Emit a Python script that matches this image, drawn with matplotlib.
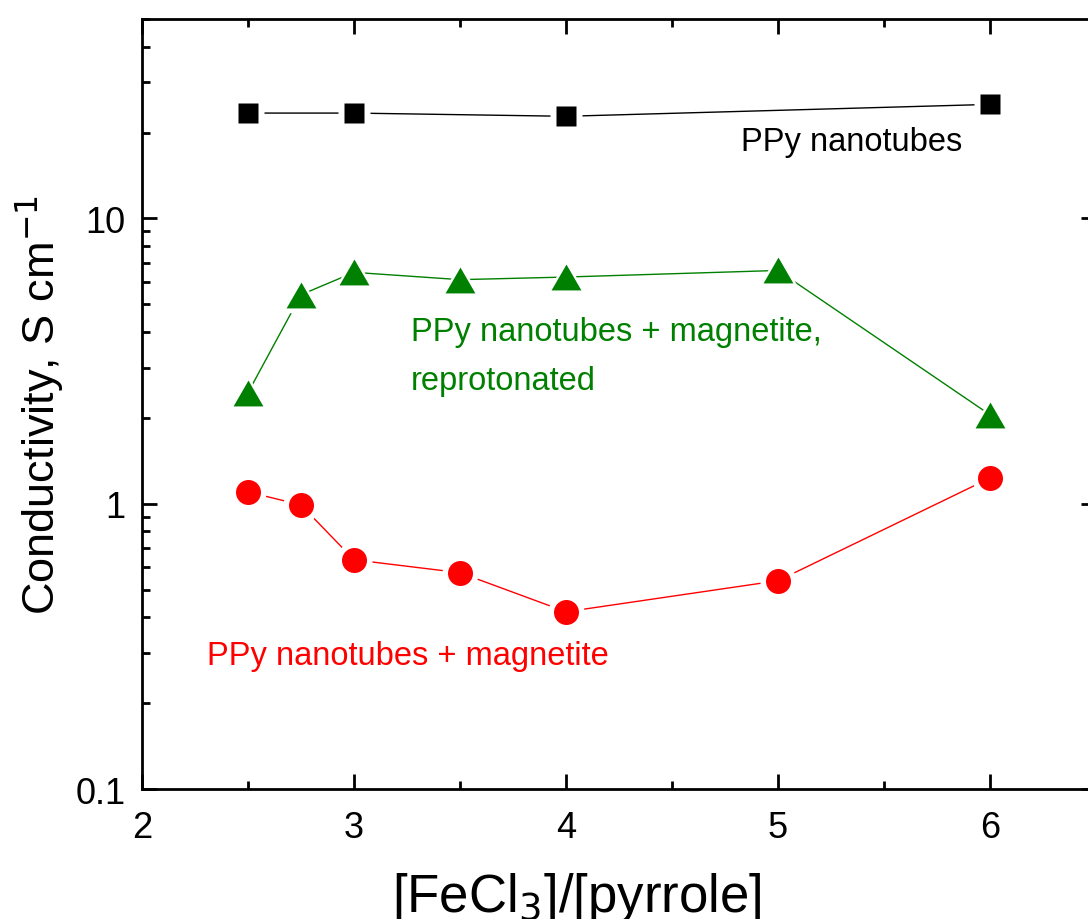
import matplotlib
matplotlib.use("Agg")
import matplotlib.pyplot as plt
from matplotlib.ticker import MultipleLocator, LogLocator, NullFormatter

plt.rcParams['font.family'] = ['Liberation Sans', 'DejaVu Sans']

# [FeCl3]/[pyrrole] ratios and measured conductivities (S/cm)
ratio_ppy = [2.5, 3.0, 4.0, 6.0]
cond_ppy = [23.4, 23.4, 22.8, 25.1]

ratio_repro = [2.5, 2.75, 3.0, 3.5, 4.0, 5.0, 6.0]
cond_repro = [2.45, 5.4, 6.47, 6.1, 6.23, 6.57, 2.05]

ratio_mag = [2.5, 2.75, 3.0, 3.5, 4.0, 5.0, 6.0]
cond_mag = [1.10, 0.99, 0.636, 0.573, 0.418, 0.537, 1.23]

x_ticks = [2, 3, 4, 5, 6]
y_ticks = [0.1, 1, 10]
y_tick_labels = ["0.1", "1", "10"]

W, H = 1088, 920
fig = plt.figure(figsize=(W / 100, H / 100), dpi=100)
ax = fig.add_axes([142 / W, 130 / H, 954 / W, 770 / H])

ax.set_yscale('log')
ax.set_xlim(2, 6.5)
ax.set_ylim(0.1, 50)

tri = [(-1, -0.866), (1, -0.866), (0, 0.866)]
series = [
    (ratio_ppy, cond_ppy, 's', 15, 'black'),
    (ratio_repro, cond_repro, tri, 21.5, '#008000'),
    (ratio_mag, cond_mag, 'o', 18, '#ff0000'),
]
gap = 8  # white halo (pt) separating the connecting line from the symbols
for xs, ys, mk, ms, col in series:
    ax.plot(xs, ys, '-', color=col, lw=1.0, zorder=2)
    ax.plot(xs, ys, ls='none', marker=mk, ms=ms + gap, mfc='white', mec='none', zorder=3)
    ax.plot(xs, ys, ls='none', marker=mk, ms=ms, mfc=col, mec='none', zorder=4)

# curve labels
fs_note = 23.5
ax.text(4.825, 17.3, "PPy nanotubes", fontsize=fs_note, color='black', ha='left', va='baseline')
ax.text(3.27, 3.76, "PPy nanotubes + magnetite,", fontsize=fs_note, color='#008000', ha='left', va='baseline')
ax.text(3.27, 2.53, "reprotonated", fontsize=fs_note, color='#008000', ha='left', va='baseline')
ax.text(2.307, 0.275, "PPy nanotubes + magnetite", fontsize=fs_note, color='#ff0000', ha='left', va='baseline')

# axes styling
for sp in ax.spines.values():
    sp.set_linewidth(2.0)

ax.set_xticks(x_ticks)
ax.set_xticklabels([str(v) for v in x_ticks])
ax.xaxis.set_minor_locator(MultipleLocator(0.5))
ax.set_yticks(y_ticks)
ax.set_yticklabels(y_tick_labels)
ax.yaxis.set_minor_locator(LogLocator(base=10, subs=range(2, 10)))
ax.yaxis.set_minor_formatter(NullFormatter())

ax.tick_params(which='both', direction='in', top=True, right=True, width=2.0)
ax.tick_params(which='major', length=11, labelsize=26)
ax.tick_params(axis='x', which='major', pad=15)
ax.tick_params(axis='y', which='major', pad=12)
ax.tick_params(which='minor', length=6)

ax.set_xlabel("[FeCl$_3$]/[pyrrole]", fontsize=38)
ax.set_ylabel("Conductivity, S cm$^{-1}$", fontsize=32.5)
ax.xaxis.set_label_coords(0.456, -0.105)
ax.yaxis.set_label_coords(-0.08, 0.5)

fig.savefig("out.png", dpi=100)
